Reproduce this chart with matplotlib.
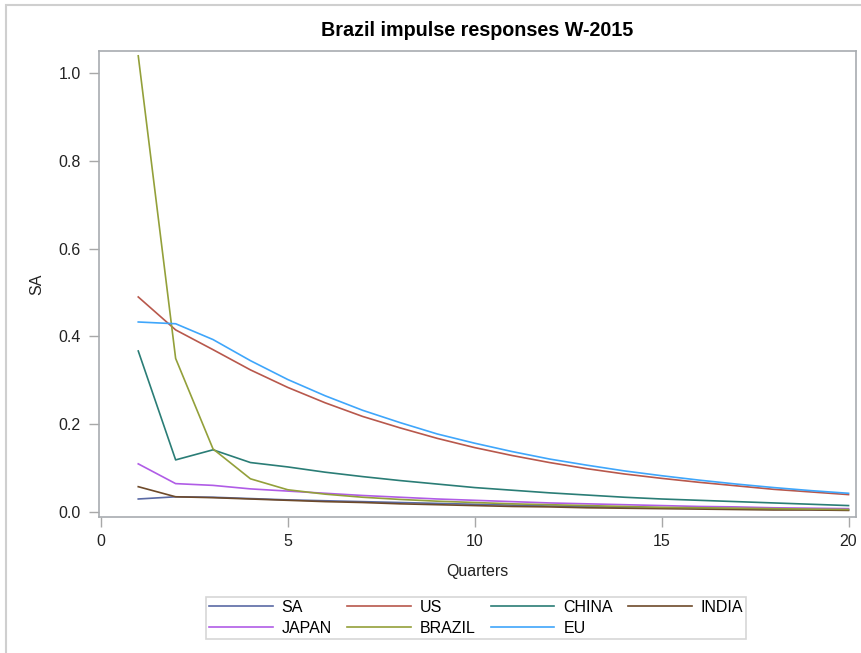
import matplotlib
matplotlib.use("Agg")
import matplotlib.pyplot as plt
from matplotlib.patches import Rectangle

plt.rcParams['font.family'] = ['Liberation Sans', 'DejaVu Sans']

quarters = list(range(1, 21))

sa = [0.030, 0.035, 0.034, 0.031, 0.028, 0.026, 0.024, 0.022, 0.020, 0.018,
      0.016, 0.014, 0.013, 0.011, 0.010, 0.009, 0.008, 0.007, 0.006, 0.005]
us = [0.490, 0.415, 0.370, 0.324, 0.284, 0.249, 0.218, 0.192, 0.168, 0.147,
      0.129, 0.113, 0.099, 0.087, 0.077, 0.068, 0.060, 0.052, 0.046, 0.040]
china = [0.367, 0.119, 0.142, 0.113, 0.103, 0.091, 0.081, 0.072, 0.064, 0.056,
         0.050, 0.044, 0.039, 0.034, 0.030, 0.027, 0.024, 0.021, 0.018, 0.015]
india = [0.058, 0.035, 0.033, 0.030, 0.027, 0.024, 0.022, 0.019, 0.017, 0.015,
         0.013, 0.012, 0.010, 0.009, 0.008, 0.007, 0.006, 0.005, 0.005, 0.004]
japan = [0.110, 0.065, 0.061, 0.053, 0.048, 0.043, 0.038, 0.034, 0.030, 0.027,
         0.024, 0.021, 0.019, 0.017, 0.015, 0.013, 0.012, 0.010, 0.009, 0.008]
brazil = [1.039, 0.350, 0.144, 0.076, 0.051, 0.041, 0.034, 0.029, 0.025, 0.022,
          0.019, 0.017, 0.015, 0.013, 0.011, 0.010, 0.009, 0.008, 0.007, 0.006]
eu = [0.433, 0.429, 0.393, 0.345, 0.302, 0.265, 0.232, 0.204, 0.178, 0.157,
      0.138, 0.121, 0.107, 0.094, 0.083, 0.073, 0.064, 0.056, 0.049, 0.043]

names = ['SA', 'US', 'CHINA', 'INDIA', 'JAPAN', 'BRAZIL', 'EU']
series = [sa, us, china, india, japan, brazil, eu]
colors = ['#5a6aa4', '#b8584c', '#2a7d76', '#6e4a2a', '#b05ce6', '#93a03a', '#3fa6fb']

fig = plt.figure(figsize=(8.61, 6.53), dpi=100)
ax = fig.add_axes([99 / 861, 1 - 517 / 653, (856 - 99) / 861, (517 - 51) / 653])

handles = {}
for name, vals, c in zip(names, series, colors):
    handles[name] = ax.plot(quarters, vals, color=c, lw=1.2, label=name)[0]

ax.set_xlim(-0.05, 20.2)
ax.set_ylim(-0.011, 1.05)
ax.set_xticks([0, 5, 10, 15, 20])
ax.set_yticks([0.0, 0.2, 0.4, 0.6, 0.8, 1.0])
ax.set_yticklabels(['0.0', '0.2', '0.4', '0.6', '0.8', '1.0'])
ax.tick_params(direction='out', length=7, width=1, color='#a8a8a8',
               labelsize=11.5, labelcolor='#222222')
ax.tick_params(axis='x', pad=5)
ax.tick_params(axis='y', pad=6)
for sp in ax.spines.values():
    sp.set_color('#a8acb0')
    sp.set_linewidth(1.2)

ax.set_xlabel('Quarters', fontsize=11.5, color='#222222', labelpad=11)
ax.set_ylabel('SA', fontsize=11.5, color='#222222', labelpad=10)
fig.text(477 / 861, 1 - 31 / 653, 'Brazil impulse responses W-2015',
         ha='center', va='center', fontsize=14.2, fontweight='bold')

# legend fills column by column, so interleave the rows
order = ['SA', 'JAPAN', 'US', 'BRAZIL', 'CHINA', 'EU', 'INDIA']
leg = fig.legend([handles[n] for n in order], order,
                 loc='center', bbox_to_anchor=(476 / 861, 1 - 618 / 653), ncol=4,
                 fontsize=11.5, frameon=True, fancybox=False, handlelength=4.0,
                 handletextpad=0.55, columnspacing=0.95, labelspacing=0.38,
                 borderpad=0.18, borderaxespad=0)
leg.get_frame().set_edgecolor('#cccccc')
leg.get_frame().set_linewidth(1.2)
for line in leg.get_lines():
    line.set_linewidth(1.2)

# outer border around the graph
fig.patches.append(Rectangle((6 / 861, -0.05), 2.0, 1.05 - 5 / 653, transform=fig.transFigure,
                             fill=False, edgecolor='#cfcfcf', lw=1.5))

fig.savefig('out.png', dpi=100)
